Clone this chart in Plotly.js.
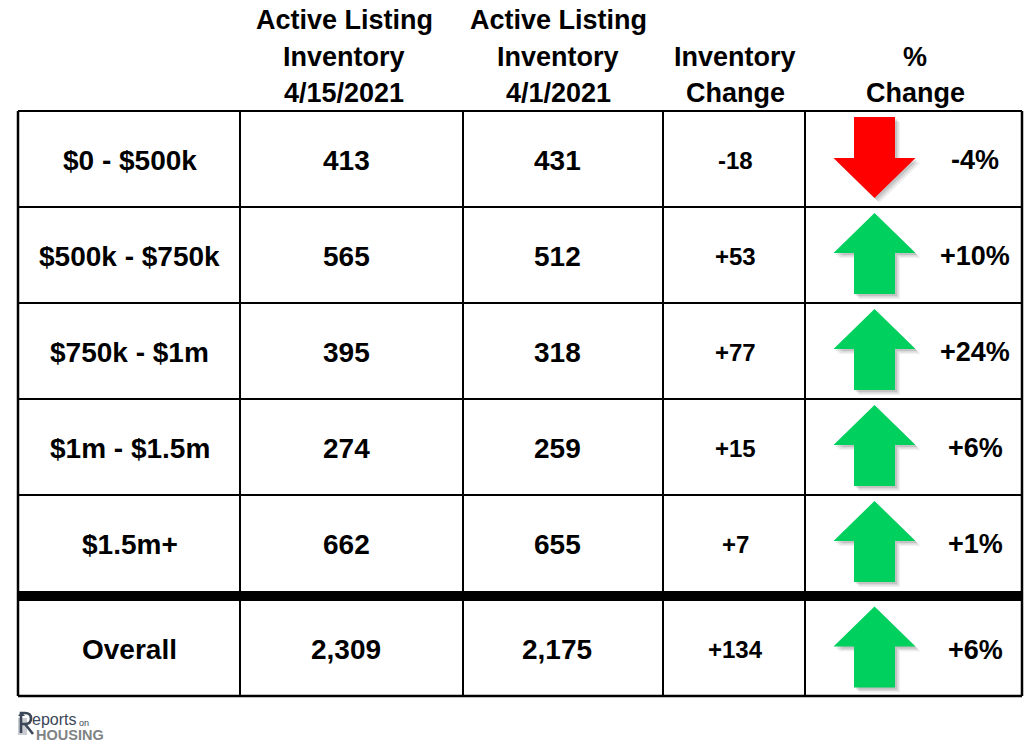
<!DOCTYPE html>
<html><head><meta charset="utf-8">
<script src="https://cdn.plot.ly/plotly-3.0.1.min.js"></script>
<style>html,body{margin:0;padding:0;background:#fff}#chart{width:1034px;height:748px}</style>
</head><body><div id="chart"></div>
<script>
// ---- data ----
const headers = [["Active Listing","Inventory","4/15/2021"],["Active Listing","Inventory","4/1/2021"],["Inventory","Change"],["%","Change"]];
const categories = ["$0 - $500k","$500k - $750k","$750k - $1m","$1m - $1.5m","$1.5m+","Overall"];
const inventory0415 = [413,565,395,274,662,2309];
const inventory0401 = [431,512,318,259,655,2175];
const inventoryChange = [-18,53,77,15,7,134];
const pctChange = [-4,10,24,6,1,6];

// ---- layout geometry ----
const W = 1034, H = 748;
const colEdges = [18,240,463,663,805,1022];
const rowEdges = [111,207,303,399,495,591];
const thickTop = 591, thickBot = 601, tableBot = 696;
const rowCenters = [];
for (let i = 0; i < 5; i++) rowCenters.push((rowEdges[i]+rowEdges[i+1])/2);
rowCenters.push((thickBot+tableBot)/2);
const textX = [129.5, 346, 557, 735.5];
const pctX = 975, arrowX = 874.5;
const headerX = [344, 558, 735, 915];
const headerY3 = [20, 56.5, 93], headerY2 = [56.5, 93];
const FONT = "Liberation Sans, Arial, sans-serif";

const fmtNum = v => v.toLocaleString("en-US");
const fmtSigned = v => (v > 0 ? "+" : "") + v.toLocaleString("en-US");

const annotations = [];
function addText(x, y, text, size, color) {
  annotations.push({x: x, y: y, xref: "x", yref: "y", text: "<b>" + text + "</b>", showarrow: false,
    xanchor: "center", yanchor: "middle", font: {family: FONT, size: size, color: color || "#000"}});
}
headers.forEach((lines, c) => {
  const ys = lines.length === 3 ? headerY3 : headerY2;
  lines.forEach((t, k) => addText(headerX[c], ys[k], t, 27));
});
const yOff = 1;
categories.forEach((cat, i) => {
  const y = rowCenters[i] + yOff;
  addText(textX[0], y, cat, 28);
  addText(textX[1], y, fmtNum(inventory0415[i]), 28);
  addText(textX[2], y, fmtNum(inventory0401[i]), 28);
  addText(textX[3], y, fmtSigned(inventoryChange[i]), 24);
  addText(pctX, y, fmtSigned(pctChange[i]) + "%", 27);
});

// logo text
annotations.push({x: 30, y: 719, xref: "x", yref: "y", text: "eports", showarrow: false, xanchor: "left", yanchor: "middle",
  font: {family: FONT, size: 16, color: "#3b4758"}});
annotations.push({x: 76.5, y: 723, xref: "x", yref: "y", text: "on", showarrow: false, xanchor: "left", yanchor: "middle",
  font: {family: FONT, size: 9, color: "#3b4758"}});
annotations.push({x: 34, y: 735, xref: "x", yref: "y", text: "<b>HOUSING</b>", showarrow: false, xanchor: "left", yanchor: "middle",
  font: {family: FONT, size: 14.5, color: "#808386"}});

// ---- shapes (grid) ----
const shapes = [];
const L = (x0,y0,x1,y1,w) => shapes.push({type:"line", xref:"x", yref:"y", x0:x0, y0:y0, x1:x1, y1:y1, line:{color:"#000", width:w}});
L(colEdges[0], rowEdges[0], colEdges[5], rowEdges[0], 2);
for (let i = 1; i < 5; i++) L(colEdges[0], rowEdges[i], colEdges[5], rowEdges[i], 2);
shapes.push({type:"rect", xref:"x", yref:"y", x0:colEdges[0]-1, x1:colEdges[5]+1, y0:thickTop, y1:thickBot, fillcolor:"#000", line:{width:0}});
L(colEdges[0], tableBot, colEdges[5], tableBot, 2.5);
L(colEdges[0], rowEdges[0], colEdges[0], tableBot, 2.5);
L(colEdges[5], rowEdges[0], colEdges[5], tableBot, 2.5);
for (let c = 1; c < 5; c++) L(colEdges[c], rowEdges[0], colEdges[c], tableBot, 2);

// logo glyph (stylised R with house mark)
shapes.push({type:"rect", xref:"x", yref:"y", x0:18, x1:27, y0:718, y1:735, fillcolor:"#c9ccd0", line:{width:0}});
shapes.push({type:"path", xref:"x", yref:"y", path:"M21,733 L21,713 L25,713 Q31,713 31,718.5 Q31,724 25,724 L21,724 M25,724 L33,734",
  line:{color:"#3b4758", width:2.6}});
shapes.push({type:"path", xref:"x", yref:"y", path:"M18,716 L21.5,712 L25,716 Z", fillcolor:"#3b4758", line:{width:0}});

// ---- arrows ----
function arrowPath(cx, cy, up, dx, dy) {
  const c0 = cy - 1.5 + dy, x = cx + dx;
  const s = up ? -1 : 1;
  const tip = c0 + s*40.5, base = c0 + s*0.5, end = c0 - s*40.5;
  return {
    x: [x, x+41, x+20.5, x+20.5, x-20.5, x-20.5, x-41, x],
    y: [tip, base, base, end, end, base, base, tip]
  };
}
const traces = [];
pctChange.forEach((p, i) => {
  const up = p >= 0;
  const cy = rowCenters[i];
  [[5,5,"rgba(0,0,0,0.06)"],[3.5,3.5,"rgba(0,0,0,0.09)"],[2,2,"rgba(0,0,0,0.10)"]].forEach(sh => {
    const s = arrowPath(arrowX, cy, up, sh[0], sh[1]);
    traces.push({type:"scatter", mode:"lines", x:s.x, y:s.y, fill:"toself", fillcolor:sh[2], line:{width:0}, hoverinfo:"skip", showlegend:false});
  });
  const a = arrowPath(arrowX, cy, up, 0, 0);
  traces.push({type:"scatter", mode:"lines", x:a.x, y:a.y, fill:"toself", fillcolor: up ? "#00D05E" : "#FF0000",
    line:{width:0}, hoverinfo:"skip", showlegend:false});
});

const layout = {
  width: W, height: H, margin: {l:0, r:0, t:0, b:0},
  paper_bgcolor: "#fff", plot_bgcolor: "#fff",
  xaxis: {range: [0, W], visible: false, fixedrange: true},
  yaxis: {range: [H, 0], visible: false, fixedrange: true},
  showlegend: false, shapes: shapes, annotations: annotations
};
Plotly.newPlot("chart", traces, layout, {staticPlot: true, displayModeBar: false});
</script></body></html>
